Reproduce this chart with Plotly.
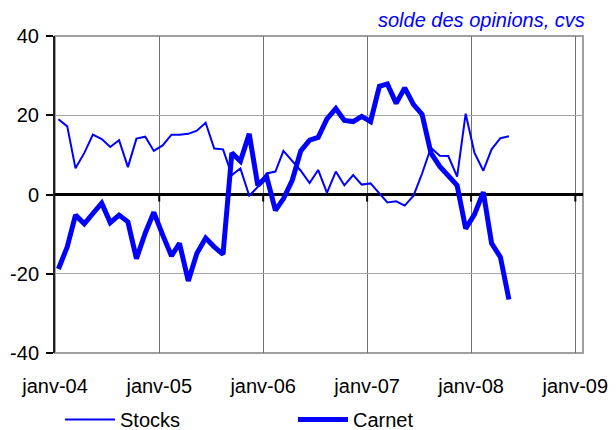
import plotly.graph_objects as go

months = [f"{y}-{m:02d}-13" for y in range(2004, 2009) for m in range(1, 13)][:53]

stocks = [19.0, 17.2, 6.6, 10.5, 15.1, 14.0, 12.0, 13.7, 6.9, 14.1, 14.6, 11.0,
          12.4, 15.1, 15.1, 15.3, 16.1, 18.1, 11.6, 11.4, 4.9, 6.6, -0.3, 1.9,
          5.3, 5.8, 11.0, 8.5, 6.0, 2.9, 6.2, 0.4, 5.8, 2.3, 4.9, 2.5,
          2.8, 0.3, -2.0, -1.7, -2.8, -0.3, 5.3, 11.8, 9.8, 9.7, 4.5, 20.4,
          10.5, 6.0, 11.4, 14.2, 14.7]

carnet = [-18.8, -13.2, -5.2, -7.4, -4.8, -2.2, -7.1, -5.2, -6.9, -16.2, -9.7, -4.5,
          -10.2, -15.5, -12.3, -21.8, -14.9, -11.0, -13.2, -15.1, 10.5, 8.4, 15.3, 2.3,
          4.5, -4.0, -1.1, 3.6, 11.0, 13.7, 14.4, 19.1, 21.7, 18.7, 18.4, 19.7,
          18.4, 27.3, 27.9, 23.0, 26.9, 22.7, 20.2, 10.5, 7.1, 4.5, 2.3, -8.6,
          -5.0, 0.6, -12.3, -15.8, -26.5]

tick_vals = ["2004-01-01", "2005-01-01", "2006-01-01", "2007-01-01", "2008-01-01", "2009-01-01"]
tick_text = ["janv-04", "janv-05", "janv-06", "janv-07", "janv-08", "janv-09"]
y_ticks = [-40, -20, 0, 20, 40]
y_tick_text = ["-40", "-20", "0", "20", "40"]

FONT = "Liberation Sans, Arial, sans-serif"
FS = 20
BLUE = "#0000FF"

fig = go.Figure()
fig.add_trace(go.Scatter(x=months, y=stocks, mode="lines", name="Stocks",
                         line=dict(color=BLUE, width=2), legend="legend"))
fig.add_trace(go.Scatter(x=months, y=carnet, mode="lines", name="Carnet",
                         line=dict(color=BLUE, width=5), legend="legend2"))

shapes = [dict(type="rect", xref="paper", yref="paper", x0=0, x1=1, y0=0, y1=1,
               line=dict(color="#a0a0a0", width=2), layer="below")]
for tv in tick_vals[1:]:
    shapes.append(dict(type="line", xref="x", yref="y", x0=tv, x1=tv, y0=0, y1=-1.8,
                       line=dict(color="black", width=2)))
fig.update_layout(shapes=shapes)

legend_common = dict(orientation="h", yanchor="middle", y=-0.2095, xanchor="left",
                     font=dict(family=FONT, size=FS, color="black"), itemwidth=50,
                     bgcolor="rgba(0,0,0,0)")

# page body has an 8px default margin: figure is sized so it fits the window
fig.update_layout(
    width=608, height=422,
    margin=dict(l=47, r=33, t=28, b=77, autoexpand=False),
    paper_bgcolor="white", plot_bgcolor="white",
    font=dict(family=FONT, size=FS, color="black"),
    showlegend=True,
    legend=dict(x=0.0095, **legend_common),
    legend2=dict(x=0.4508, **legend_common),
    xaxis=dict(range=["2004-01-01", "2009-01-28"], tickvals=tick_vals, ticktext=tick_text,
               showgrid=True, gridcolor="#707070", gridwidth=1,
               ticks="", showline=False, zeroline=False,
               ticklabelstandoff=19, tickfont=dict(size=FS)),
    yaxis=dict(range=[-40, 40], tickvals=y_ticks, ticktext=y_tick_text,
               showgrid=True, gridcolor="#a6a6a6",
               gridwidth=1, zeroline=True, zerolinecolor="black", zerolinewidth=2.5,
               showline=True, linecolor="#222222", linewidth=2,
               ticks="outside", ticklen=7, tickwidth=1.5, tickcolor="black",
               ticklabelstandoff=3, tickfont=dict(size=FS)),
    annotations=[dict(text="solde des opinions, cvs", xref="paper", yref="paper",
                      x=1, y=1, xanchor="right", yanchor="bottom", yshift=3, xshift=4,
                      showarrow=False,
                      font=dict(family=FONT, size=FS, color=BLUE, style="italic"))],
)

fig.write_html("out.html")
